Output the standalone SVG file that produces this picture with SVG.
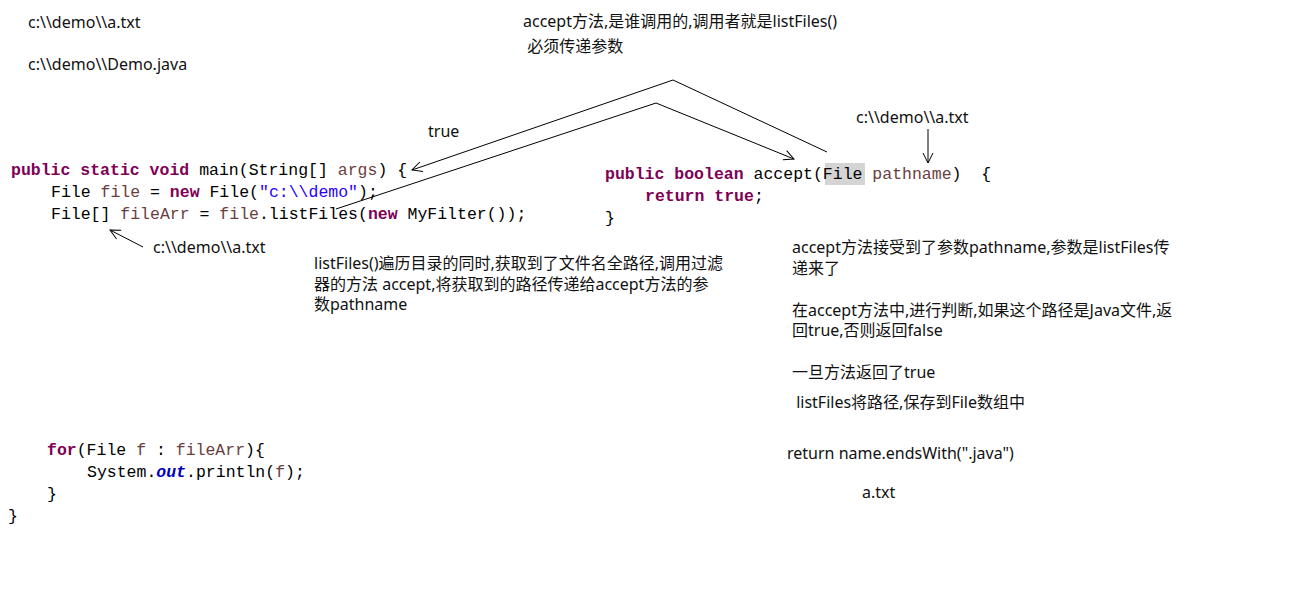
<svg xmlns="http://www.w3.org/2000/svg" width="1299" height="603" viewBox="0 0 1299 603">
<style>
.code{font-family:"Liberation Mono","DejaVu Sans Mono",monospace;font-size:16.5px;fill:#000;white-space:pre}
.kw{fill:#7F0055;font-weight:bold}
.var{fill:#6A3E3E}
.str{fill:#2A00FF}
.fld{fill:#0000C0;font-weight:bold;font-style:italic}
.note{font-family:"Noto Sans","Noto Sans CJK SC",sans-serif;font-size:16px;fill:#111;white-space:pre}
.conn{fill:none;stroke:#000;stroke-width:1}
</style>
<defs>
<marker id="arr" viewBox="0 0 12 12" refX="11" refY="6" markerWidth="12" markerHeight="12" markerUnits="userSpaceOnUse" orient="auto">
<path d="M1,1 L11,6 L1,11" fill="none" stroke="#000" stroke-width="1"/>
</marker>
</defs>
<rect width="1299" height="603" fill="#fff"/>

<g id="main-code">
<text class="code" x="11" y="175"><tspan class="kw">public static void</tspan> main(String[] <tspan class="var">args</tspan>) {</text>
<text class="code" x="51" y="197">File <tspan class="var">file</tspan> = <tspan class="kw">new</tspan> File(<tspan class="str">"c:\\demo"</tspan>);</text>
<text class="code" x="51" y="219">File[] <tspan class="var">fileArr</tspan> = <tspan class="var">file</tspan>.listFiles(<tspan class="kw">new</tspan> MyFilter());</text>
<text class="code" x="47" y="455"><tspan class="kw">for</tspan>(File <tspan class="var">f</tspan> : <tspan class="var">fileArr</tspan>){</text>
<text class="code" x="87" y="477">System.<tspan class="fld">out</tspan>.println(<tspan class="var">f</tspan>);</text>
<text class="code" x="47" y="499">}</text>
<text class="code" x="8" y="521">}</text>
</g>

<g id="accept-code">
<rect x="825" y="163" width="40" height="22" fill="#D4D4D4"/>
<text class="code" x="605" y="179"><tspan class="kw">public boolean</tspan> accept(File <tspan class="var">pathname</tspan>)  {</text>
<text class="code" x="645" y="201"><tspan class="kw">return true</tspan>;</text>
<text class="code" x="605" y="223">}</text>
</g>

<g id="notes">
<text class="note" x="28" y="28">c:\\demo\\a.txt</text>
<text class="note" x="28" y="70">c:\\demo\\Demo.java</text>
<text class="note" x="523" y="27">accept方法,是谁调用的,调用者就是listFiles()</text>
<text class="note" x="523" y="52"> 必须传递参数</text>
<text class="note" x="428" y="137">true</text>
<text class="note" x="856" y="123">c:\\demo\\a.txt</text>
<text class="note" x="153" y="253">c:\\demo\\a.txt</text>
<text class="note" x="314" y="269">listFiles()遍历目录的同时,获取到了文件名全路径,调用过滤</text>
<text class="note" x="314" y="290">器的方法 accept,将获取到的路径传递给accept方法的参</text>
<text class="note" x="314" y="310">数pathname</text>
<text class="note" x="792" y="253">accept方法接受到了参数pathname,参数是listFiles传</text>
<text class="note" x="792" y="274">递来了</text>
<text class="note" x="792" y="316">在accept方法中,进行判断,如果这个路径是Java文件,返</text>
<text class="note" x="792" y="336">回true,否则返回false</text>
<text class="note" x="792" y="378">一旦方法返回了true</text>
<text class="note" x="792" y="408"> listFiles将路径,保存到File数组中</text>
<text class="note" x="787" y="459">return name.endsWith(".java")</text>
<text class="note" x="862" y="498">a.txt</text>
</g>

<g id="connectors">
<polyline class="conn" points="827,152 673,80 412,170" marker-end="url(#arr)"/>
<polyline class="conn" points="336,209 656,103 794,159" marker-end="url(#arr)"/>
<line class="conn" x1="143" y1="247" x2="110" y2="230" marker-end="url(#arr)"/>
<line class="conn" x1="928" y1="129" x2="928" y2="163" marker-end="url(#arr)"/>
</g>
</svg>
